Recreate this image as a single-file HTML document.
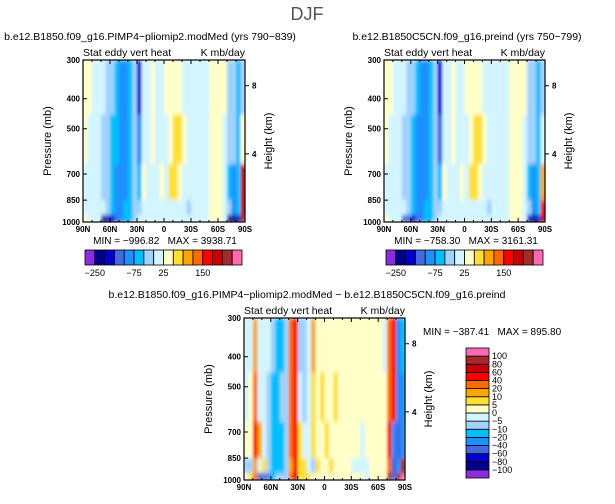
<!DOCTYPE html>
<html><head><meta charset="utf-8"><style>
body{margin:0;background:#fff;width:615px;height:499px;overflow:hidden}
svg text{font-family:"Liberation Sans",sans-serif;fill:#000;white-space:pre}
</style></head><body>
<svg id="fig" width="615" height="499" xmlns="http://www.w3.org/2000/svg">
<defs><filter id="soft" x="0" y="0" width="1" height="1"><feGaussianBlur stdDeviation="1.3 2.5" edgeMode="duplicate"/></filter></defs>
<text x="307" y="20" font-size="18" text-anchor="middle" fill="#555" style="fill:#555">DJF</text>
</svg>
<script>
// ---- data ----
const latTicks = ['90N','60N','30N','0','30S','60S','90S'];
const presTicks = [300,400,500,700,850,1000];
const heightTicks = [8,4];
const bandEdges = [300,450,650,850,950,1000];
const colors = ['#8b2be2','#00008b','#0000cd','#4169e1','#1e90ff','#00bfff','#a0d2ff','#d2f5ff','#ffffc8','#ffe030','#ffa500','#ff6a00','#ff0000','#c80000','#a52a2a','#ff69b4'];
const levelsAbs = [-250,-200,-150,-100,-75,-50,-25,0,25,50,75,100,150,200,250];
const levelsDiff = [-100,-80,-60,-40,-20,-10,-5,0,5,10,20,40,60,80,100];
const barLabelsAbs = ['-250','-75','25','150'];
const barLabelIdxAbs = [1,5,8,12];
const barLabelsDiff = ['100','80','60','40','20','10','5','0','-5','-10','-20','-40','-60','-80','-100'];
const p1 = [
[10,10,-10,-10,-10,-40,-40,-60,-90,-90,-60,-40,-170,-10,-10,10,-10,-10,10,10,10,10,-10,-10,-10,-10,-10,-10,10,10,10,10,-40,-40,-60,-40],
[10,-10,-10,-10,-40,-40,-60,-60,-90,-90,-60,-40,-90,-10,-10,10,-10,-10,-10,10,40,40,10,-10,-10,-10,-10,-10,10,10,10,-10,-40,-40,-60,10],
[-10,-10,-10,-10,-40,-40,-60,-90,-90,-90,-60,-40,-60,10,-10,-10,-10,10,-10,40,40,10,-10,-10,-10,-10,-10,-10,10,10,10,-10,-60,-90,-60,150],
[-10,-10,-10,-10,-10,-40,-60,-90,-90,-60,-60,-40,-40,-10,-10,-10,-10,-10,-10,-10,-10,-10,-10,-40,-10,-10,-10,-10,10,10,10,-10,-40,-90,-60,150],
[10,-10,-10,-10,-250,-170,-170,-120,-90,-60,-60,-40,-10,-10,-10,-10,-10,-10,-10,-10,-10,-10,-10,-10,-10,-10,-10,-10,10,10,10,-10,-250,-250,-170,200]];
const p2 = [
[10,10,-10,-10,-10,-40,-40,-60,-90,-90,-60,-40,-170,-10,-10,10,-10,-10,10,10,10,10,-10,-10,-10,-10,-10,-10,10,10,10,10,-40,-40,-60,-40],
[10,-10,-10,-10,-40,-40,-60,-90,-90,-90,-60,-40,-120,-10,-10,10,-10,-10,-10,10,40,40,10,-10,-10,-10,-10,-10,10,10,10,-10,-40,-40,-60,-10],
[-10,-10,-10,-10,-40,-40,-60,-90,-90,-90,-60,-40,-60,10,-10,-10,-10,10,-10,40,40,10,-10,-10,-10,-10,-10,-10,10,10,10,-10,-60,-90,-60,60],
[-10,-10,-10,-10,-10,-40,-60,-90,-90,-60,-60,-40,-40,-10,-10,-10,-10,-10,-10,-10,-10,-10,-10,-40,-10,-10,-10,-10,10,10,10,-10,-40,-90,-60,100],
[10,-10,-10,-10,-120,-120,-170,-120,-90,-60,-60,-40,-10,-10,-10,-10,-10,-10,-10,-10,-10,-10,-10,-10,-10,-10,-10,-10,10,10,10,-10,-170,-250,-170,150]];
const p3 = [
[-3,-3,15,-3,-3,-3,-8,-15,-15,-8,30,50,-8,-8,-3,15,2,2,2,2,2,2,2,2,2,2,2,2,2,2,2,-3,20,40,-30,-15],
[-3,2,30,-3,-3,-8,-15,-15,-8,-8,20,50,-3,-8,-3,8,2,8,2,2,8,2,2,2,2,2,2,2,2,2,2,2,30,40,-30,-30],
[2,2,50,15,-3,-8,-15,-15,-15,-8,20,50,8,-3,-3,8,2,2,8,2,2,2,2,2,2,2,-3,2,2,2,2,2,50,-30,-60,-40],
[-8,-8,15,-3,8,-8,-15,-15,-15,-8,15,50,8,8,-3,-8,8,2,2,8,2,2,2,2,-3,-3,-3,-3,2,2,2,2,30,-60,-30,90],
[2,8,20,-60,-60,-30,-15,-8,-8,-8,30,60,8,8,8,2,2,2,2,2,2,2,2,2,2,2,2,-3,2,2,2,2,90,-60,90,110]];

const NS='http://www.w3.org/2000/svg';
const svg=document.getElementById('fig');
function mk(tag,attrs,parent){const e=document.createElementNS(NS,tag);for(const k in attrs)e.setAttribute(k,attrs[k]);(parent||svg).appendChild(e);return e;}
function txt(x,y,s,size,anchor,parent,extra){const t=mk('text',Object.assign({x:x,y:y,'font-size':size,'text-anchor':anchor||'start'},extra||{}),parent);t.textContent=s;return t;}
function colorIdx(v,lev){let i=0;while(i<lev.length&&v>=lev[i])i++;return i;}

function panel(name,x0,y0,w,h,data,lev,title,tx,minmax){
  const g=mk('g',{});
  
  
  const yS=p=>y0+h*Math.log(p/300)/Math.log(1000/300);
  const xS=lat=>x0+w*(90-lat)/180;
  const ncol=data[0].length;
  const fg=mk('g',{filter:'url(#soft)'},g);
  
  
  data.forEach((row,r)=>{
    row.forEach((v,c)=>{
      const xa=xS(90-180*c/ncol),xb=xS(90-180*(c+1)/ncol);
      const cell=mk('rect',{x:xa,y:yS(bandEdges[r]),width:xb-xa+0.4,height:yS(bandEdges[r+1])-yS(bandEdges[r])+0.4,fill:colors[colorIdx(v,lev)]},fg);
      
      
    });
  });
  mk('rect',{x:x0,y:y0,width:w,height:h,fill:'none',stroke:'#000','stroke-width':1.2},g);
  for(let lat=90;lat>=-90;lat-=10){
    const x=xS(lat),len=(lat%30===0)?4:2;
    mk('line',{x1:x,y1:y0+h,x2:x,y2:y0+h-len,stroke:'#000'},g);
    mk('line',{x1:x,y1:y0,x2:x,y2:y0+len,stroke:'#000'},g);
  }
  latTicks.forEach((s,i)=>{const l=txt(xS(90-30*i),y0+h+10,s,8,'middle',g,{'font-weight':'bold'});});
  presTicks.forEach(p=>{mk('line',{x1:x0,y1:yS(p),x2:x0+4,y2:yS(p),stroke:'#000'},g);
    const l=txt(x0-3,yS(p)+3,String(p),8,'end',g,{'font-weight':'bold'});});
  heightTicks.forEach(hk=>{const p=1000*Math.exp(-hk/7.9);const y=yS(p);
    mk('line',{x1:x0+w,y1:y,x2:x0+w+4,y2:y,stroke:'#000'},g);
    const l=txt(x0+w+7,y+3,String(hk),8,'start',g,{'font-weight':'bold'});});
  const yt=txt(0,0,'Pressure (mb)',11,'middle',g,{transform:`translate(${x0-32},${y0+h/2}) rotate(-90)`});
  
  const ht=txt(0,0,'Height (km)',11,'middle',g,{transform:`translate(${x0+w+27},${y0+h/2}) rotate(-90)`});
  
  const s1=txt(x0,y0-4,'Stat eddy vert heat',10.5,'start',g);
  const s2=txt(x0+w,y0-4,'K mb/day',10.5,'end',g);
  const t=txt(tx,y0-20,title,10.5,'middle',g);
  if(minmax){const m=txt(minmax[0],minmax[1],minmax[2],10,minmax[3],g);}
}
function hbar(name,x0,y0,w,h){
  const g=mk('g',{});
  
  
  const bw=w/colors.length;
  colors.forEach((c,i)=>{const r=mk('rect',{x:x0+i*bw,y:y0,width:bw,height:h,fill:c,stroke:'#000','stroke-width':0.8},g);
    });
  barLabelsAbs.forEach((s,k)=>{const l=txt(x0+barLabelIdxAbs[k]*bw,y0+h+11,s.replace('-','\u2212'),9,'middle',g);});
}
function vbar(name,x0,y0,w,h){
  const g=mk('g',{});
  
  
  const bh=h/colors.length;
  colors.forEach((c,i)=>{const r=mk('rect',{x:x0,y:y0+(colors.length-1-i)*bh,width:w,height:bh,fill:c,stroke:'#000','stroke-width':0.8},g);
    });
  barLabelsDiff.forEach((s,k)=>{const l=txt(x0+w+3,y0+(k+1)*bh+3,s.replace('-','\u2212'),9,'start',g);});
}
panel('panel-pliomip',83,60,162,162,p1,levelsAbs,'b.e12.B1850.f09_g16.PIMP4\u2212pliomip2.modMed (yrs 790\u2212839)',150,[165,244,'MIN = \u2212996.82   MAX = 3938.71','middle']);
panel('panel-preind',384,60,161,162,p2,levelsAbs,'b.e12.B1850C5CN.f09_g16.preind (yrs 750\u2212799)',467,[466,244,'MIN = \u2212758.30   MAX = 3161.31','middle']);
panel('panel-difference',244,318,161,162,p3,levelsDiff,'b.e12.B1850.f09_g16.PIMP4\u2212pliomip2.modMed \u2212 b.e12.B1850C5CN.f09_g16.preind',307,[423,335,'MIN = \u2212387.41   MAX = 895.80','start']);
hbar('colorbar-pliomip',85,250,157,15);
hbar('colorbar-preind',386,250,157,15);
vbar('colorbar-difference',466,348,23,130);
</script>
</body></html>
